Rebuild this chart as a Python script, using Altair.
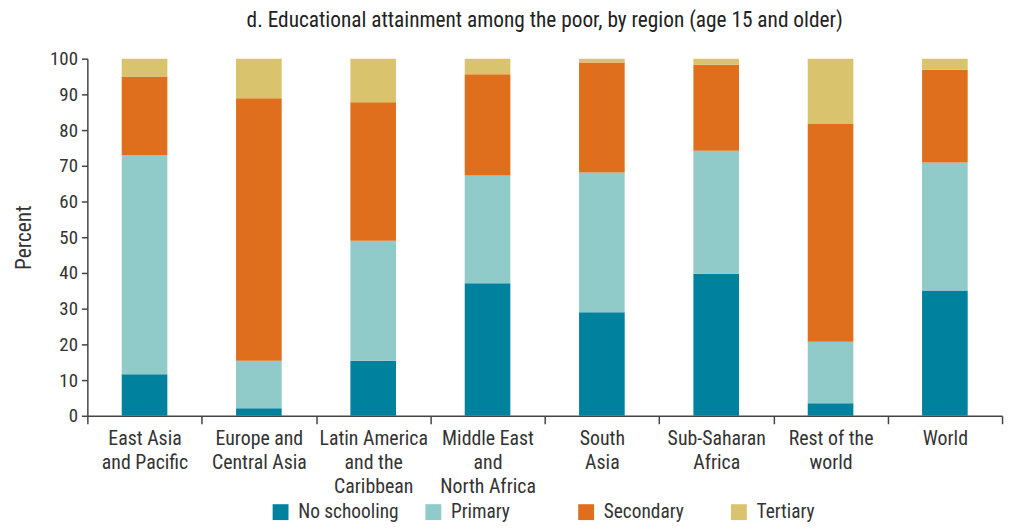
import altair as alt
import pandas as pd
import json

regions = ["East Asia and Pacific", "Europe and Central Asia", "Latin America and the Caribbean",
           "Middle East and North Africa", "South Asia", "Sub-Saharan Africa", "Rest of the world", "World"]
label_lines = [["East Asia", "and Pacific"], ["Europe and", "Central Asia"], ["Latin America", "and the", "Caribbean"],
               ["Middle East", "and", "North Africa"], ["South", "Asia"], ["Sub-Saharan", "Africa"],
               ["Rest of the", "world"], ["World"]]
levels = ["No schooling", "Primary", "Secondary", "Tertiary"]
colors = ["#00829F", "#91CBC9", "#DF6F1C", "#DAC36D"]

no_schooling = [11.6, 2.1, 15.4, 37.1, 29.0, 39.8, 3.5, 35.1]
primary = [61.4, 13.3, 33.6, 30.2, 39.1, 34.4, 17.2, 35.8]
secondary = [22.0, 73.5, 38.8, 28.3, 30.8, 24.1, 61.0, 26.0]
tertiary = [5.0, 11.1, 12.2, 4.4, 1.1, 1.7, 18.3, 3.1]

series = [no_schooling, primary, secondary, tertiary]
rows = []
for li, (lev, vals) in enumerate(zip(levels, series)):
    for r, v in zip(regions, vals):
        rows.append({"region": r, "level": lev, "value": v, "ord": li})
df = pd.DataFrame(rows)

FONT = "Liberation Sans Narrow, Roboto Condensed, Roboto, sans-serif"
mapping = json.dumps(dict(zip(regions, label_lines)))

chart = alt.Chart(df).mark_bar(size=46).encode(
    x=alt.X("region:N", sort=regions,
            scale=alt.Scale(paddingInner=0, paddingOuter=0),
            axis=alt.Axis(title=None, labelAngle=0, tickBand="extent", labelExpr=f"{mapping}[datum.label]",
                          labelLineHeight=24, labelPadding=5, labelFontSize=20, tickSize=8,
                          labelBaseline="top")),
    y=alt.Y("value:Q", stack="zero", scale=alt.Scale(domain=[0, 100], nice=False),
            axis=alt.Axis(title="Percent", values=list(range(0, 101, 10)), grid=False, tickSize=6,
                          labelFontSize=19, titleFontSize=21.5, titleFontWeight="normal", titlePadding=14,
                          labelPadding=4)),
    color=alt.Color("level:N", sort=levels, scale=alt.Scale(domain=levels, range=colors),
                    legend=alt.Legend(title=None, orient="none", direction="horizontal", legendX=185, legendY=447,
                                      columns=4, gridAlign="all",
                                      symbolType="square", symbolSize=256, symbolStrokeWidth=0,
                                      labelFontSize=19.5, columnPadding=25, labelOffset=8)),
    order=alt.Order("ord:Q", sort="ascending"),
).properties(
    width=922, height=360,
    title=alt.TitleParams("d. Educational attainment among the poor, by region (age 15 and older)",
                          fontSize=21.5, fontWeight="normal", color="#222", offset=18, anchor="middle"),
    autosize=alt.AutoSizeParams(type="none"),
    padding={"left": 80, "top": 49, "right": 6, "bottom": 107},
).configure(font=FONT).configure_axis(
    domainColor="#444", tickColor="#444", labelColor="#333", titleColor="#333", domainWidth=1.5, tickWidth=1.5
).configure_legend(labelColor="#333").configure_view(stroke=None)

chart.save("out.html", embed_options={"renderer": "svg", "actions": False})
